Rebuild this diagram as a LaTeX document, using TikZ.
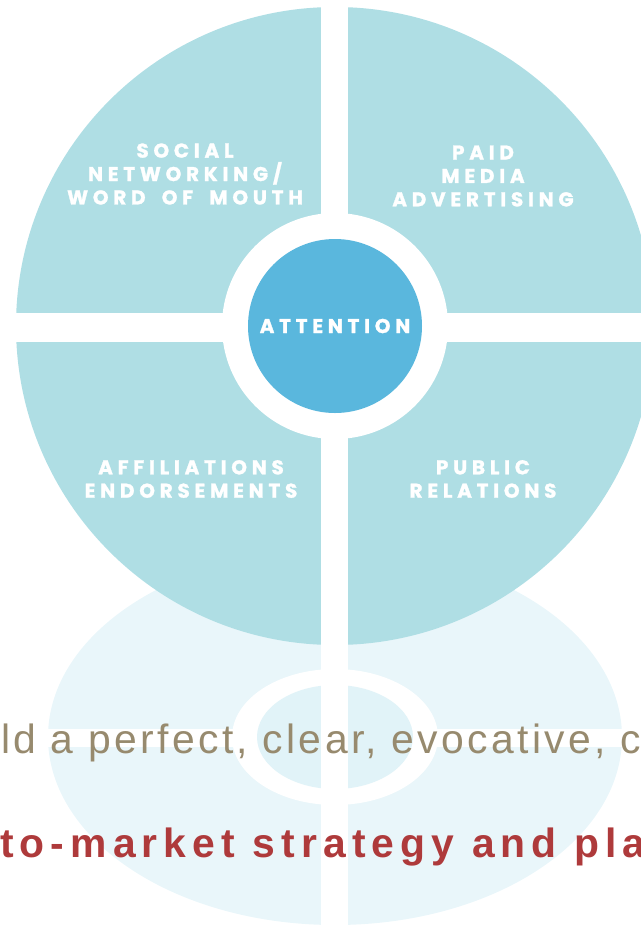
\documentclass[tikz,border=0pt]{standalone}
\usepackage{fontspec}
\setmainfont{Liberation Sans}
\newfontfamily\labelfont[LetterSpace=24,WordSpace=1.8,FakeBold=1.4]{Poppins}
\definecolor{wheelblue}{HTML}{AFDEE4}
\definecolor{coreblue}{HTML}{5AB7DD}
\definecolor{paleblue}{HTML}{E9F6FA}
\definecolor{palecore}{HTML}{E1F3F8}
\definecolor{taupe}{HTML}{978A6E}
\definecolor{brick}{HTML}{AE3A3B}
\tikzset{
  segment/.style={text=white,font=\labelfont\bfseries\fontsize{20}{23.5}\selectfont,align=center,inner sep=0},
  tagline/.style={anchor=base west,inner sep=0}
}
\begin{document}
\begin{tikzpicture}[x=1bp,y=-1bp]
\useasboundingbox (0,0) rectangle (641,926);
\clip (0,0) rectangle (641,926);

% reflection below the wheel
\fill[paleblue] (335,737) ellipse [x radius=287bp, y radius=188bp];
\fill[white] (0,729) rectangle (641,747);
\fill[white] (335,737) ellipse [x radius=103bp, y radius=68bp];
\fill[palecore] (335,737) ellipse [x radius=78bp, y radius=52bp];

% wheel
\fill[wheelblue] (335,326) circle (319bp);
\fill[white] (0,313) rectangle (641,342); % horizontal gap
\fill[white] (321,0) rectangle (348,926); % vertical gap
\fill[white] (335,326) circle (113bp); % ring
\fill[coreblue] (335,326) circle (87bp); % centre

%labels
\node[segment] (social) at (185,174) {SOCIAL\\NETWORKING/\\WORD OF MOUTH};
\node[segment] (paid) at (483,176) {PAID\\MEDIA\\ADVERTISING};
\node[segment] (attention) at (335,326) {ATTENTION};
\node[segment] (affil) at (191,479) {AFFILIATIONS\\ENDORSEMENTS};
\node[segment] (public) at (483,479) {PUBLIC\\RELATIONS};

% text running across the reflection
\node[tagline,text=taupe,font=\addfontfeatures{LetterSpace=8.2}\fontsize{41}{41}\selectfont] (perfect) at (1,753) {ld a perfect, clear, evocative, c};
\node[tagline,text=brick,font=\bfseries\addfontfeatures{LetterSpace=15}\fontsize{41}{41}\selectfont] (strategy) at (0,857) {to-market strategy and pla};
\end{tikzpicture}
\end{document}
